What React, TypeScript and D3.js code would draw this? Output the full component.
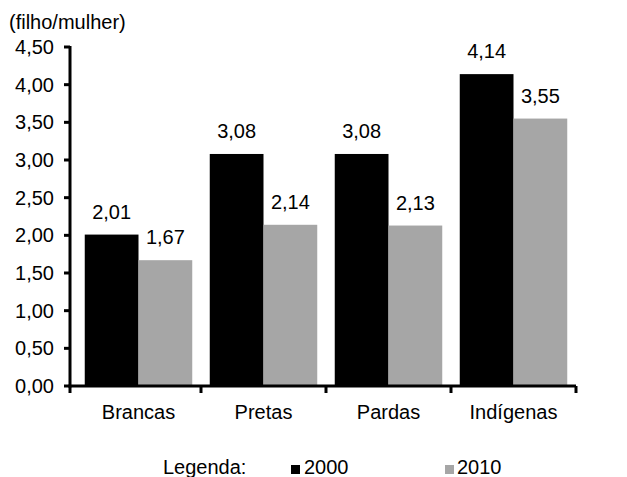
import React from "react";
import * as d3 from "d3";

const categories = ["Brancas", "Pretas", "Pardas", "Indígenas"];
const series2000 = [2.01, 3.08, 3.08, 4.14];
const series2010 = [1.67, 2.14, 2.13, 3.55];
const seriesNames = ["2000", "2010"];
const yTicks = [0, 0.5, 1, 1.5, 2, 2.5, 3, 3.5, 4, 4.5];
const unitLabel = "(filho/mulher)";
const legendTitle = "Legenda:";

const W = 627;
const H = 477;
const FONT = "'Liberation Sans', Arial, sans-serif";
const FS = 20;
const COLORS = ["#000000", "#a6a6a6"];

const fmt = (v: number) => v.toFixed(2).replace(".", ",");

export default function App() {
  const axisX = 70;
  const x = d3.scaleBand<string>().domain(categories).range([76, 576]).padding(0);
  const y = d3.scaleLinear().domain([0, 4.5]).range([386, 47]);
  const barW = x.bandwidth() * 0.43;
  const data = [series2000, series2010];
  const bounds = [axisX, ...categories.slice(1).map((c) => x(c) as number), 576];

  return (
    <svg
      width={W}
      height={H}
      style={{ position: "absolute", left: 0, top: 0, background: "#fff" }}
      fontFamily={FONT}
      fontSize={FS}
    >
      <text x={9} y={29} fill="#000">{unitLabel}</text>

      {/* bars */}
      {data.map((vals, si) =>
        vals.map((v, i) => {
          const cx = (x(categories[i]) as number) + x.bandwidth() / 2;
          const bx = si === 0 ? cx - barW : cx;
          return (
            <g key={`${si}-${i}`}>
              <rect x={bx} y={y(v)} width={barW} height={y(0) - y(v)} fill={COLORS[si]} />
              <text x={bx + barW / 2} y={y(v) - 16} textAnchor="middle" fill="#000">
                {fmt(v)}
              </text>
            </g>
          );
        })
      )}

      {/* y axis */}
      <line x1={axisX} x2={axisX} y1={y(4.5) - 1} y2={y(0) + 1.5} stroke="#000" strokeWidth={3} />
      {yTicks.map((t) => (
        <g key={t}>
          <line x1={axisX - 6} x2={axisX} y1={y(t)} y2={y(t)} stroke="#000" strokeWidth={3} />
          <text x={axisX - 16} y={y(t)} dy="0.35em" textAnchor="end" fill="#000">
            {fmt(t)}
          </text>
        </g>
      ))}

      {/* x axis */}
      <line x1={axisX - 1.5} x2={576} y1={y(0)} y2={y(0)} stroke="#000" strokeWidth={3} />
      {bounds.map((b, i) => (
        <line key={i} x1={b} x2={b} y1={y(0)} y2={y(0) + 7} stroke="#000" strokeWidth={3} />
      ))}
      {categories.map((c) => (
        <text key={c} x={(x(c) as number) + x.bandwidth() / 2} y={419} textAnchor="middle" fill="#000">
          {c}
        </text>
      ))}

      {/* legend */}
      <text x={163} y={474} fill="#000">{legendTitle}</text>
      <rect x={291} y={465} width={9} height={9} fill={COLORS[0]} />
      <text x={304} y={474} fill="#000">{seriesNames[0]}</text>
      <rect x={445} y={465} width={9} height={9} fill={COLORS[1]} />
      <text x={457} y={474} fill="#000">{seriesNames[1]}</text>
    </svg>
  );
}
